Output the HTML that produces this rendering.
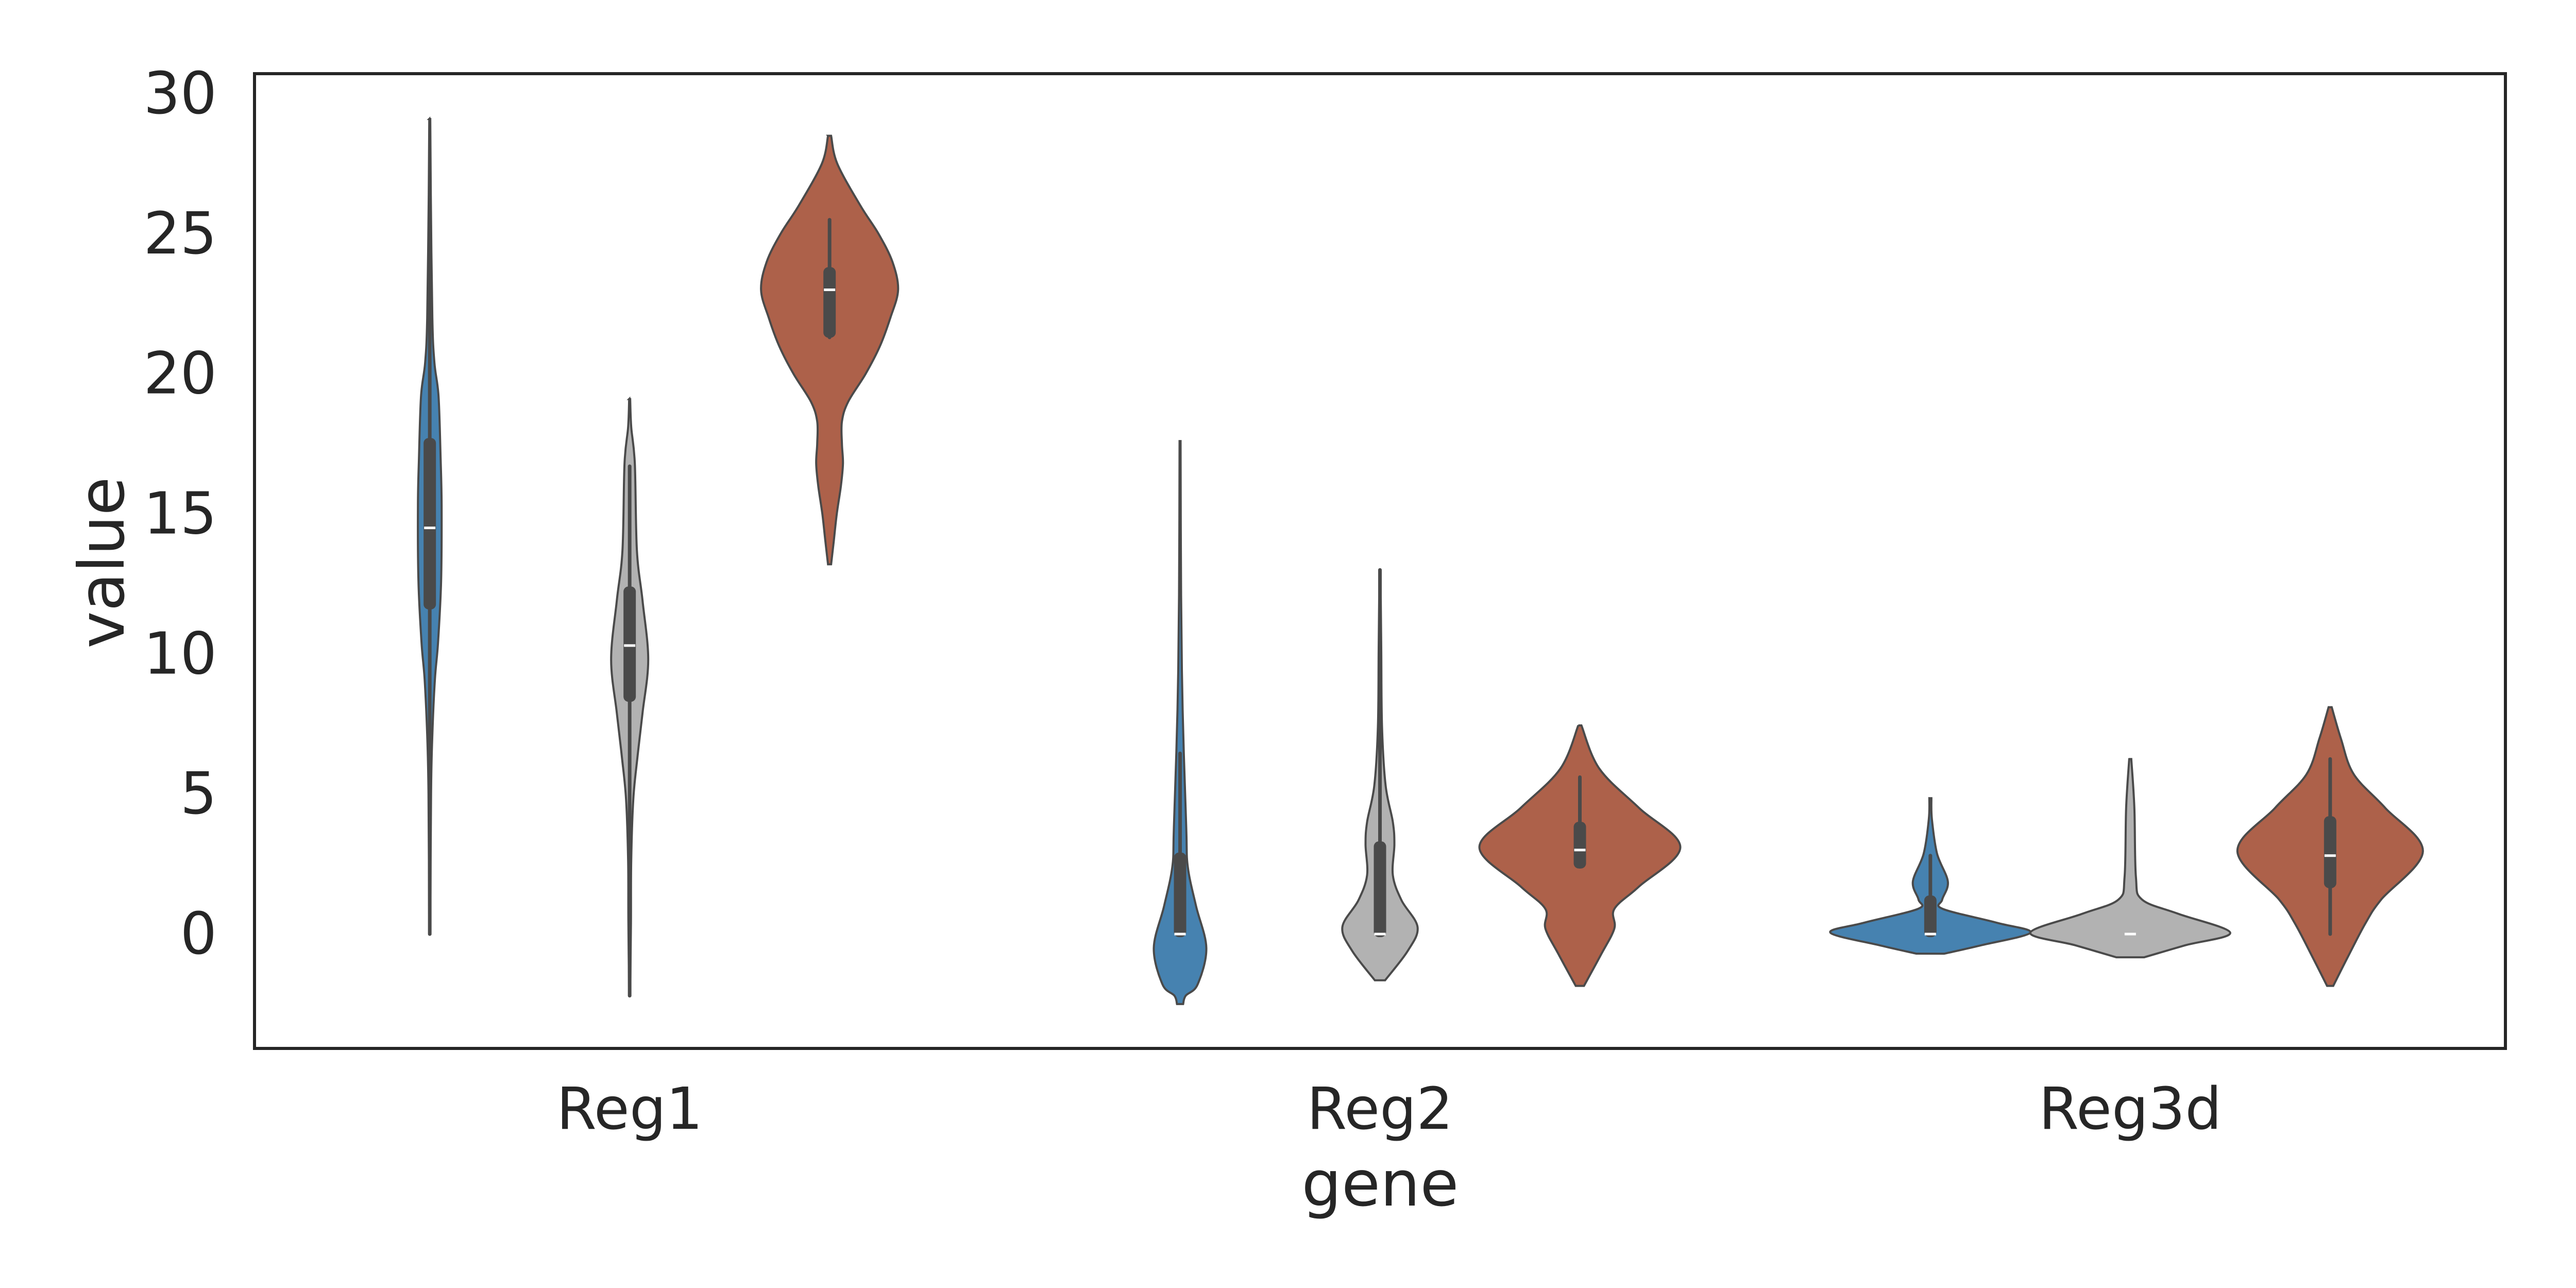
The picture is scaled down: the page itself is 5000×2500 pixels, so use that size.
<!DOCTYPE html>
<html><head><meta charset="utf-8"><style>
html,body{margin:0;padding:0;background:#fff;}
svg{display:block;}
text{font-family:"DejaVu Sans","Liberation Sans",sans-serif;fill:#262626;}
</style></head><body>
<svg id="chart" width="5000" height="2500" viewBox="0 0 5000 2500" xmlns="http://www.w3.org/2000/svg">
<rect x="0" y="0" width="5000" height="2500" fill="#fff"/>
<g id="plot"></g>
<rect x="494" y="143" width="4369" height="1892" fill="none" stroke="#262626" stroke-width="6"/>
<g id="yticks"></g>
<g id="xticks"></g>
<text x="2679" y="2298" font-size="122" text-anchor="middle" dominant-baseline="central">gene</text>
<text x="198" y="1092" font-size="122" text-anchor="middle" dominant-baseline="central" transform="rotate(-90 198 1092)">value</text>
</svg>
<script>
const categories = ['Reg1', 'Reg2', 'Reg3d'];
const yTicks = [0, 5, 10, 15, 20, 25, 30];
const hueColors = ['#4682b0', '#b2b2b2', '#ad614a'];

// Density profiles (value levels, top to bottom) and half-width densities
const reg1AV = [29.1, 26.4, 22, 20.4, 19.2, 17, 15.3, 12.6, 10.4, 9.1, 7.1, 5, 0];
const reg1AD = [1, 2, 5, 9, 17, 21, 23, 22, 16, 10, 5, 2.5, 1];
const reg1BV = [19.1, 18.1, 16.8, 13.7, 11.9, 9.8, 7.9, 6.3, 4.8, 2.6, 0.4, -2.2];
const reg1BD = [1, 3, 10, 14, 25, 36, 25, 15, 7, 3, 2.5, 1];
const reg1CV = [28.5, 27.5, 26, 25, 24, 23, 22, 21, 20, 19, 18.3, 17.5, 16.8, 16, 15, 14, 13.2];
const reg1CD = [3, 15, 60, 95, 122, 133, 118, 98, 70, 36, 24, 24, 26, 22, 14, 8, 3];
const reg2AV = [17.6, 12.1, 8.0, 3.8, 2.4, 1.0, -0.5, -1.8, -2.2, -2.5];
const reg2AD = [1, 2, 5, 12, 15, 31, 51, 34, 11, 6];
const reg2BV = [13.0, 10.2, 7.4, 5.3, 4.0, 3.2, 2.1, 1.2, 0.25, -0.6, -1.65];
const reg2BD = [1, 2.5, 4, 11, 25, 28, 25, 42, 73, 54, 10];
const reg2CV = [7.45, 5.9, 4.5, 3.1, 1.7, 0.9, 0.2, -0.7, -1.85];
const reg2CD = [3, 38, 115, 195, 115, 67, 67, 42, 8];
const reg3AV = [4.85, 4.1, 2.87, 1.87, 1.23, 0.9, 0.4, 0.05, -0.4, -0.7];
const reg3AD = [2, 3, 13, 34, 23, 24, 130, 194, 99, 27];
const reg3BV = [6.25, 4.5, 2.04, 1.23, 0.73, 0.05, -0.4, -0.83];
const reg3BD = [2, 8, 11, 23, 92, 194, 107, 27];
const reg3CV = [8.1, 6.97, 5.7, 4.5, 2.95, 1.23, 0.4, -0.83, -1.85];
const reg3CD = [3, 21, 46, 107, 180, 99, 69, 34, 6];

// box stats: [whiskerLow, q1, median, q3, whiskerHigh]
const reg1AStats = [0, 11.7, 14.5, 17.6, 26.2];
const reg1BStats = [-2.2, 8.4, 10.3, 12.3, 16.7];
const reg1CStats = [21.3, 21.4, 23.0, 23.7, 25.5];
const reg2AStats = [0, 0, 0, 2.8, 6.45];
const reg2BStats = [0, 0, 0, 3.2, 13.0];
const reg2CStats = [2.4, 2.45, 3.0, 3.9, 5.6];
const reg3AStats = [0, 0, 0, 1.27, 2.8];
const reg3BStats = [0, 0, 0, 0, 0];
const reg3CStats = [0, 1.75, 2.8, 4.1, 6.25];

const violins = [
  [0, 0, reg1AV, reg1AD, reg1AStats], [0, 1, reg1BV, reg1BD, reg1BStats], [0, 2, reg1CV, reg1CD, reg1CStats],
  [1, 0, reg2AV, reg2AD, reg2AStats], [1, 1, reg2BV, reg2BD, reg2BStats], [1, 2, reg2CV, reg2CD, reg2CStats],
  [2, 0, reg3AV, reg3AD, reg3AStats], [2, 1, reg3BV, reg3BD, reg3BStats], [2, 2, reg3CV, reg3CD, reg3CStats]
];

const NS = 'http://www.w3.org/2000/svg';
const X0 = 494, X1 = 4863, Y0v = 1813, PXU = 54.37;
function yScale(v) { return Y0v - v * PXU; }
function xCat(i) { return X0 + (i + 0.5) * (X1 - X0) / categories.length; }
function xHue(i, h) { return xCat(i) + (h - 1) * 388; }

function curve(pts) {
  let d = '';
  for (let i = 0; i < pts.length - 1; i++) {
    const p0 = pts[Math.max(0, i - 1)], p1 = pts[i], p2 = pts[i + 1], p3 = pts[Math.min(pts.length - 1, i + 2)];
    const c1 = [p1[0] + (p2[0] - p0[0]) / 6, p1[1] + (p2[1] - p0[1]) / 6];
    const c2 = [p2[0] - (p3[0] - p1[0]) / 6, p2[1] - (p3[1] - p1[1]) / 6];
    d += ` C${c1[0].toFixed(1)},${c1[1].toFixed(1)} ${c2[0].toFixed(1)},${c2[1].toFixed(1)} ${p2[0].toFixed(1)},${p2[1].toFixed(1)}`;
  }
  return d;
}

const plot = document.getElementById('plot');
violins.forEach(([ci, h, vals, dens, st]) => {
  const cx = xHue(ci, h);
  const right = vals.map((v, k) => [cx + dens[k], yScale(v)]);
  const left = vals.map((v, k) => [cx - dens[k], yScale(v)]).reverse();
  let d = `M${left[left.length - 1][0]},${left[left.length - 1][1]} L${right[0][0]},${right[0][1]}` + curve(right) +
    ` L${left[0][0]},${left[0][1]}` + curve(left) + ' Z';
  const g = document.createElementNS(NS, 'g');
  
  
  const p = document.createElementNS(NS, 'path');
  p.setAttribute('d', d);
  p.setAttribute('fill', hueColors[h]);
  p.setAttribute('stroke', '#4a4a4a');
  p.setAttribute('stroke-width', '4');
  
  
  g.appendChild(p);
  if (st[4] !== st[0]) {
    const w = document.createElementNS(NS, 'line');
    w.setAttribute('x1', cx); w.setAttribute('x2', cx);
    w.setAttribute('y1', yScale(st[4])); w.setAttribute('y2', yScale(st[0]));
    w.setAttribute('stroke', '#4a4a4a'); w.setAttribute('stroke-width', '7'); w.setAttribute('stroke-linecap', 'round');
    
    
    g.appendChild(w);
  }
  if (st[3] !== st[1]) {
    const b = document.createElementNS(NS, 'rect');
    b.setAttribute('x', cx - 12); b.setAttribute('width', 24);
    b.setAttribute('y', yScale(st[3]) - 6); b.setAttribute('height', yScale(st[1]) - yScale(st[3]) + 12);
    b.setAttribute('rx', 10); b.setAttribute('fill', '#4a4a4a');
    
    
    g.appendChild(b);
  }
  const m = document.createElementNS(NS, 'line');
  m.setAttribute('x1', cx - 11); m.setAttribute('x2', cx + 11);
  m.setAttribute('y1', yScale(st[2])); m.setAttribute('y2', yScale(st[2]));
  m.setAttribute('stroke', '#fff'); m.setAttribute('stroke-width', '5');
  
  
  g.appendChild(m);
  plot.appendChild(g);
});

const yt = document.getElementById('yticks');
yTicks.forEach(t => {
  const tx = document.createElementNS(NS, 'text');
  tx.setAttribute('x', 421); tx.setAttribute('y', yScale(t));
  tx.setAttribute('font-size', '112'); tx.setAttribute('text-anchor', 'end'); tx.setAttribute('dominant-baseline', 'central');
  
  
  tx.textContent = t;
  yt.appendChild(tx);
});
const xt = document.getElementById('xticks');
categories.forEach((c, i) => {
  const tx = document.createElementNS(NS, 'text');
  tx.setAttribute('x', xCat(i)); tx.setAttribute('y', 2153);
  tx.setAttribute('font-size', '112'); tx.setAttribute('text-anchor', 'middle'); tx.setAttribute('dominant-baseline', 'central');
  
  
  tx.textContent = c;
  xt.appendChild(tx);
});
</script>
</body></html>
